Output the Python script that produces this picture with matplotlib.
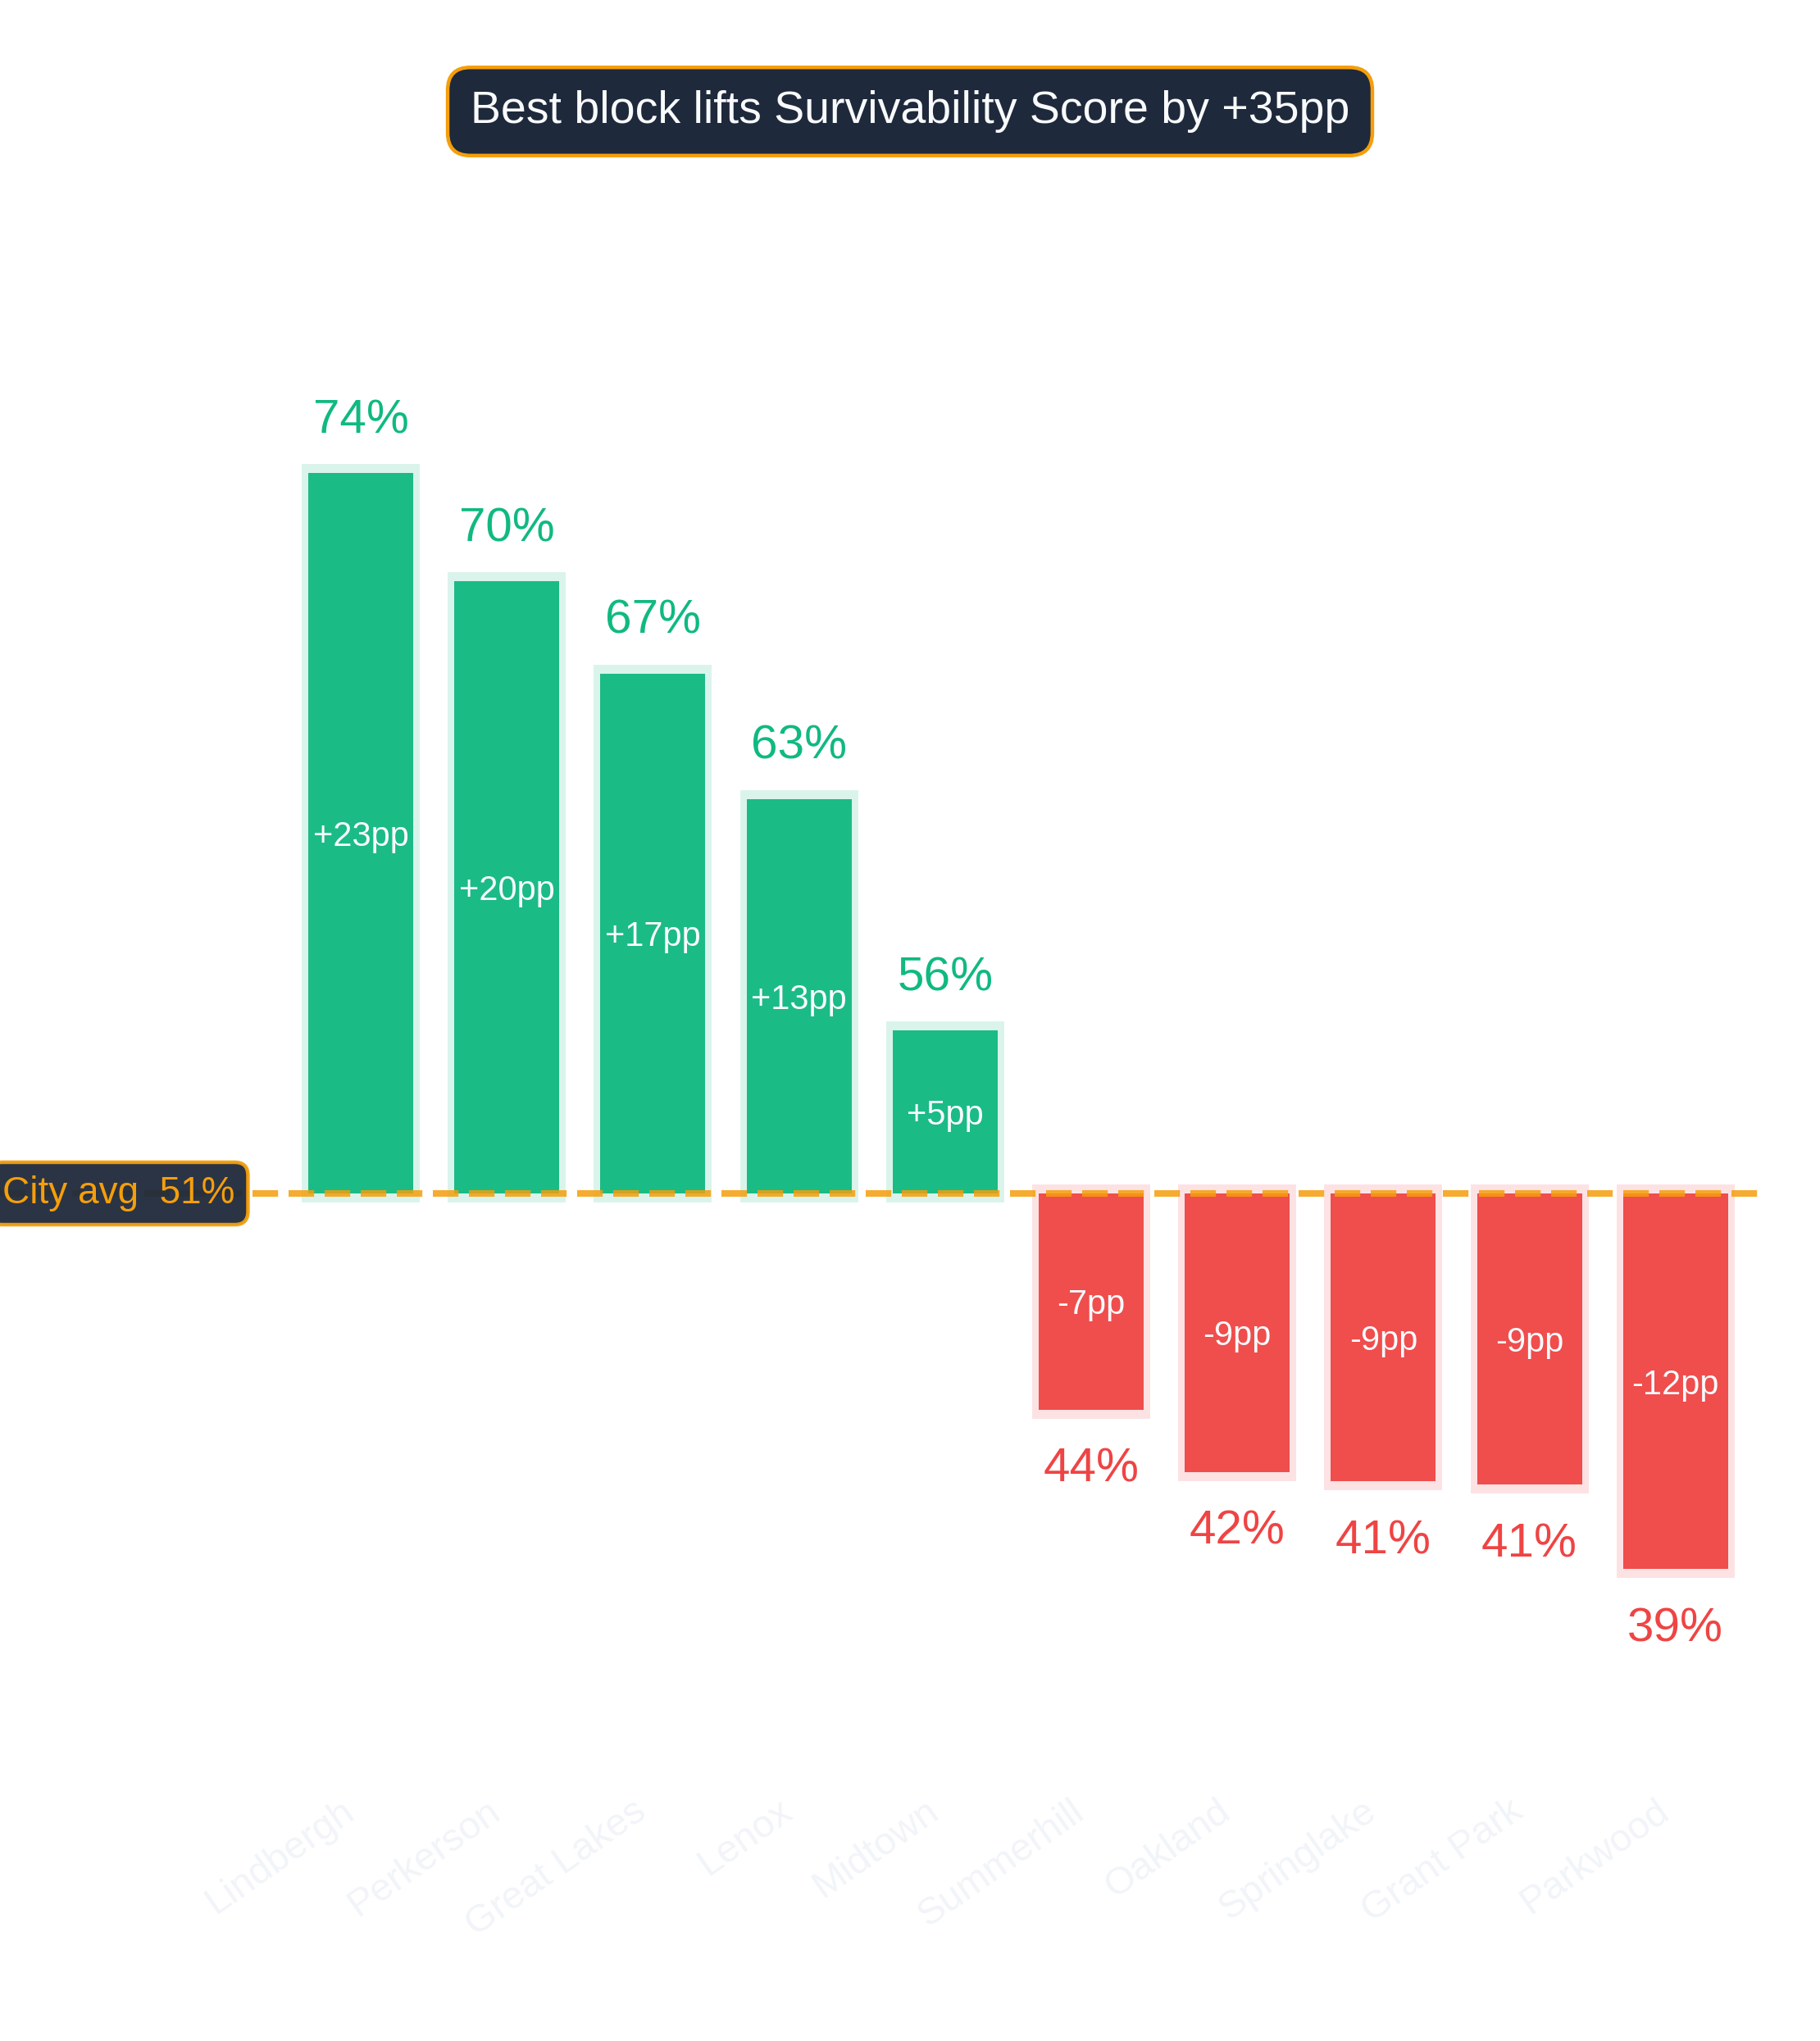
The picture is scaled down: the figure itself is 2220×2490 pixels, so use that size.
import matplotlib
matplotlib.use("Agg")
import matplotlib.pyplot as plt
import numpy as np

plt.rcParams['font.family'] = ['Liberation Sans', 'DejaVu Sans']

# ---- data ----
neighborhoods = ["Lindbergh", "Perkerson", "Great Lakes", "Lenox", "Midtown",
                 "Summerhill", "Oakland", "Springlake", "Grant Park", "Parkwood"]
scores = [73.6, 70.15, 67.2, 63.2, 55.8, 43.7, 41.7, 41.4, 41.3, 38.6]
city_avg = 50.6
title_text = "Best block lifts Survivability Score by +35pp"

# ---- style ----
GREEN = "#1bbb86"
GREEN_HALO = "#daf4ec"
GREEN_TXT = "#10b981"
RED = "#f04d4d"
RED_HALO = "#fde2e4"
RED_TXT = "#ef4444"
ORANGE = "#f59e0b"
NAVY = "#1e293b"
WHITE = "#f8fafc"
TICK = "#f1f4f8"

W, H, DPI = 2220, 2490, 200
fig = plt.figure(figsize=(W / DPI, H / DPI), dpi=DPI)
fig.patch.set_facecolor("white")

ax_top_px, ax_bot_px, ax_right_px = 200, 2178, 2153
ax = fig.add_axes([0, 1 - ax_bot_px / H, ax_right_px / W, (ax_bot_px - ax_top_px) / H])
ax.set_facecolor("none")

px_per_unit = 38.2
avg_px = 1456
ax.set_ylim(city_avg - (ax_bot_px - avg_px) / px_per_unit,
            city_avg + (avg_px - ax_top_px) / px_per_unit)
x = np.arange(len(neighborhoods))
spacing = 178.2
first_px = 440
ax.set_xlim(-first_px / spacing, (ax_right_px - first_px) / spacing)

bw = 0.718
hx = 16 / spacing      # extra halo width (data units)
hy = 11 / px_per_unit  # halo vertical extension

deltas = [s - city_avg for s in scores]
for xi, s, d in zip(x, scores, deltas):
    pos = d >= 0
    col = GREEN if pos else RED
    halo = GREEN_HALO if pos else RED_HALO
    lo, hi = min(city_avg, s), max(city_avg, s)
    ax.bar(xi, (hi - lo) + 2 * hy, bottom=lo - hy, width=bw + hx,
           color=halo, zorder=1, linewidth=0)
    ax.bar(xi, hi - lo, bottom=lo, width=bw, color=col, zorder=2, linewidth=0)
    # inner delta label
    ax.text(xi, (lo + hi) / 2, f"{d:+.0f}pp", ha="center", va="center_baseline",
            color=WHITE, fontsize=15, zorder=4)
    # value label
    if pos:
        ax.text(xi, s + 1.28, f"{s:.0f}%", ha="center", va="baseline",
                color=GREEN_TXT, fontsize=21, zorder=4)
    else:
        ax.text(xi, s - 2.30, f"{s:.0f}%", ha="center", va="baseline",
                color=RED_TXT, fontsize=21, zorder=4)

ax.axhline(city_avg, color=ORANGE, alpha=0.85, lw=2.88, dashes=(3.9, 1.6), zorder=3)

ax.text(0.0014, city_avg, f"City avg  {city_avg:.0f}%", transform=ax.get_yaxis_transform(),
        ha="left", va="center", color=ORANGE, fontsize=16.5, zorder=6,
        bbox=dict(boxstyle="round,pad=0.35", fc=NAVY, ec=ORANGE, lw=1.6, alpha=0.95),
        clip_on=False)

ax.set_xticks(x)
ax.set_xticklabels(neighborhoods, rotation=35, ha="right", color=TICK, fontsize=17)
ax.tick_params(axis="x", length=0, pad=3.5)
ax.set_yticks([])
for sp in ax.spines.values():
    sp.set_visible(False)

fig.text(0.5, 1 - 136 / H, title_text, ha="center", va="center", color=WHITE,
         fontsize=20,
         bbox=dict(boxstyle="round,pad=0.5", fc=NAVY, ec=ORANGE, lw=1.6))

fig.savefig("out.png", dpi=DPI, facecolor="white")
